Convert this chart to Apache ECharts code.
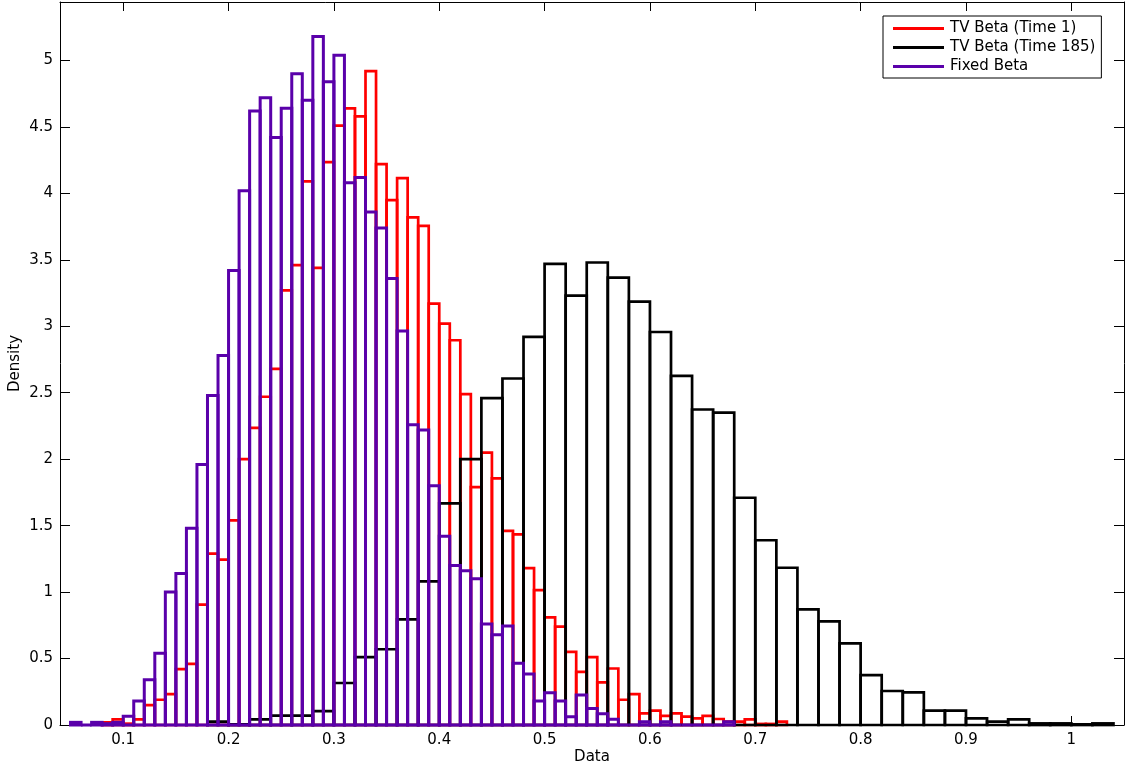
<!DOCTYPE html>
<html>
<head>
<meta charset="utf-8">
<script src="https://cdn.jsdelivr.net/npm/echarts@6/dist/echarts.min.js"></script>
<style>
  html, body { margin: 0; padding: 0; background: #fff; }
  #chart { width: 1125px; height: 769px; }
</style>
</head>
<body>
<div id="chart"></div>
<script>
// histogram bins: first left edge, bin width, density per bin
const tv1Start = 0.08;
const tv1Width = 0.01;
const tv1Density = [
  0.02, 0.043, 0.01, 0.043, 0.15, 0.19, 0.233, 0.42, 0.46, 0.905,
  1.29, 1.245, 1.54, 2.0, 2.235, 2.47, 2.68, 3.27, 3.46, 4.09,
  3.44, 4.235, 4.51, 4.64, 4.58, 4.92, 4.22, 3.95, 4.115, 3.82,
  3.755, 3.17, 3.02, 2.895, 2.49, 1.79, 2.05, 1.855, 1.46, 1.435,
  1.18, 1.015, 0.81, 0.74, 0.55, 0.4, 0.51, 0.32, 0.425, 0.19,
  0.233, 0.088, 0.108, 0.068, 0.088, 0.063, 0.05, 0.068, 0.045, 0.025,
  0.025, 0.043, 0.008, 0.008, 0.025
];

const tv185Start = 0.18;
const tv185Width = 0.02;
const tv185Density = [
  0.025, 0.005, 0.043, 0.07, 0.07, 0.105, 0.316, 0.51, 0.57, 0.795,
  1.08, 1.667, 2.0, 2.46, 2.607, 2.92, 3.47, 3.23, 3.48, 3.366,
  3.186, 2.957, 2.627, 2.374, 2.35, 1.71, 1.39, 1.183, 0.87, 0.78,
  0.614, 0.376, 0.256, 0.246, 0.108, 0.108, 0.05, 0.025, 0.043, 0.012,
  0.012, 0.005, 0.012
];

const fixedStart = 0.05;
const fixedWidth = 0.01;
const fixedDensity = [
  0.02, 0, 0.02, 0.01, 0.02, 0.065, 0.18, 0.34, 0.54, 1.0,
  1.14, 1.48, 1.96, 2.48, 2.78, 3.42, 4.02, 4.62, 4.72, 4.42,
  4.64, 4.9, 4.7, 5.18, 4.84, 5.04, 4.08, 4.12, 3.86, 3.74,
  3.36, 2.965, 2.26, 2.22, 1.8, 1.42, 1.2, 1.16, 1.1, 0.76,
  0.68, 0.745, 0.464, 0.383, 0.18, 0.243, 0.18, 0.063, 0.225, 0.125,
  0.085, 0.043, 0, 0, 0.025, 0, 0.025, 0, 0, 0,
  0, 0, 0.025
];

const xTicks = [0.1, 0.2, 0.3, 0.4, 0.5, 0.6, 0.7, 0.8, 0.9, 1];
const yTicks = [0, 0.5, 1, 1.5, 2, 2.5, 3, 3.5, 4, 4.5, 5];
const seriesNames = ["TV Beta (Time 1)", "TV Beta (Time 185)", "Fixed Beta"];
const seriesColors = ["#ff0000", "#000000", "#5a00aa"];
const seriesLineWidths = [2.7, 2.7, 3];

const font = "DejaVu Sans";

function toBins(start, width, values) {
  return values.map((v, i) => [
    +(start + i * width).toFixed(4),
    +(start + (i + 1) * width).toFixed(4),
    v,
  ]);
}

// open outline rectangle per bin, like matlab's hist bars with no face
function outline(color, lineWidth) {
  return function (params, api) {
    const tl = api.coord([api.value(0), api.value(2)]);
    const br = api.coord([api.value(1), 0]);
    return {
      type: "rect",
      shape: { x: tl[0], y: tl[1], width: br[0] - tl[0], height: br[1] - tl[1] },
      style: { fill: "none", stroke: color, lineWidth: lineWidth },
    };
  };
}

function histSeries(idx, start, width, values) {
  return {
    name: seriesNames[idx],
    type: "custom",
    renderItem: outline(seriesColors[idx], seriesLineWidths[idx]),
    itemStyle: { color: seriesColors[idx] },
    encode: { x: [0, 1], y: 2 },
    data: toBins(start, width, values),
    z: 2 + idx,
  };
}

const boxLine = { show: true, onZero: false, lineStyle: { color: "#000", width: 1 } };

const myChart = echarts.init(document.getElementById("chart"), null, { renderer: "canvas" });

var option = {
  animation: false,
  backgroundColor: "#fff",
  textStyle: { fontFamily: font },
  grid: { left: 60, right: 1, top: 2, bottom: 44, containLabel: false, outerBoundsMode: "none" },
  legend: {
    orient: "vertical",
    left: 883,
    top: 16,
    padding: [5, 6, 4, 10],
    itemGap: 4,
    itemWidth: 51,
    itemHeight: 3,
    backgroundColor: "#fff",
    borderColor: "#000",
    borderWidth: 1,
    selectedMode: false,
    textStyle: { fontFamily: font, fontSize: 15, color: "#000", padding: [0, 0, 0, 1] },
    data: seriesNames.map((n, i) => ({ name: n, icon: "rect", itemStyle: { color: seriesColors[i] } })),
  },
  xAxis: [
    {
      type: "value",
      min: 0.04,
      max: 1.05,
      position: "bottom",
      name: "Data",
      nameLocation: "middle",
      nameGap: 25,
      nameMoveOverlap: false,
      nameTextStyle: { fontFamily: font, fontSize: 15, color: "#000" },
      axisLine: boxLine,
      axisTick: { show: true, inside: true, length: 9, customValues: xTicks, lineStyle: { color: "#000" } },
      axisLabel: { customValues: xTicks, color: "#000", fontFamily: font, fontSize: 15, margin: 8 },
      splitLine: { show: false },
    },
    {
      type: "value",
      min: 0.04,
      max: 1.05,
      position: "top",
      axisLine: boxLine,
      axisTick: { show: true, inside: true, length: 9, customValues: xTicks, lineStyle: { color: "#000" } },
      axisLabel: { show: false },
      splitLine: { show: false },
    },
  ],
  yAxis: [
    {
      type: "value",
      min: 0,
      max: 5.44,
      position: "left",
      name: "Density",
      nameLocation: "middle",
      nameGap: 37,
      nameMoveOverlap: false,
      nameTextStyle: { fontFamily: font, fontSize: 15, color: "#000" },
      axisLine: boxLine,
      axisTick: { show: true, inside: true, length: 10, customValues: yTicks, lineStyle: { color: "#000" } },
      axisLabel: { customValues: yTicks, color: "#000", fontFamily: font, fontSize: 15, margin: 7 },
      splitLine: { show: false },
    },
    {
      type: "value",
      min: 0,
      max: 5.44,
      position: "right",
      axisLine: boxLine,
      axisTick: { show: true, inside: true, length: 10, customValues: yTicks, lineStyle: { color: "#000" } },
      axisLabel: { show: false },
      splitLine: { show: false },
    },
  ],
  series: [
    histSeries(0, tv1Start, tv1Width, tv1Density),
    histSeries(1, tv185Start, tv185Width, tv185Density),
    histSeries(2, fixedStart, fixedWidth, fixedDensity),
  ],
};

myChart.setOption(option);
</script>
</body>
</html>
